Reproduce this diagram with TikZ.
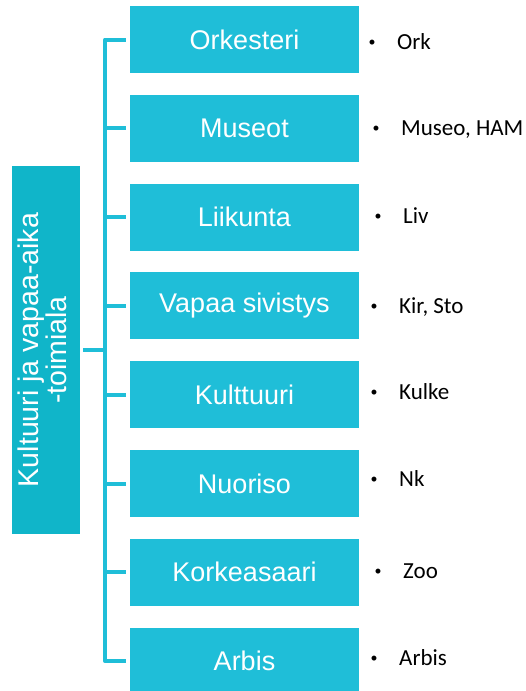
\documentclass[tikz,border=0pt]{standalone}
\usepackage{fontspec}
\setmainfont{Liberation Sans}
\newfontfamily\carlito{Carlito}
\definecolor{unitcyan}{HTML}{1FBED8}
\definecolor{leadcyan}{HTML}{10B5C9}
\newcommand\dotmark{\makebox[0pt][c]{\raisebox{2.5pt}{\fontsize{14}{14}\selectfont\textbullet}}}
\begin{document}
\begin{tikzpicture}[x=1pt, y=-1pt, line join = round,
	unit/.style={fill=unitcyan, minimum width=229pt, minimum height=67pt, inner sep=0pt, text=white, font=\fontsize{27}{30}\selectfont},
	stem/.style={draw=unitcyan, line width=4pt},
	info/.style={anchor=base west, inner sep=0pt, font=\carlito\fontsize{23}{26}\selectfont}]
	\useasboundingbox (0,0) rectangle (525,691);
	\node[fill=leadcyan, rotate=90, minimum width=368pt, minimum height=68pt, inner sep=0pt, text=white, align=center, font=\fontsize{28.5}{28}\selectfont] (lead) at (46,350) {Kultuuri ja vapaa-aika\\-toimiala\rule[-8pt]{0pt}{8pt}};
	\coordinate (trunk) at (105,350);
	\foreach \name/\txt/\bx/\by [count=\k] in {Orkesteri/Ork/372/49, Museot/{Museo, HAM}/376/135, Liikunta/Liv/378/223, Vapaa sivistys/{Kir, Sto}/374/313, Kulttuuri/Kulke/374/399, Nuoriso/Nk/374/486, Korkeasaari/Zoo/378/578, Arbis/Arbis/374/665}{
		\pgfmathsetmacro\cy{39.5+88.8*(\k-1)}
		\node[unit] (u\k) at (244.5,\cy) {\name};
		\node[info] (i\k) at (\bx,\by) {\dotmark\hspace{25pt}\txt};
	}
	\draw[stem] ([xshift=-4pt]u1.west) -- (u1.west -| trunk) -- (u8.west -| trunk) -- ([xshift=-4pt]u8.west);
	\foreach \k in {2,...,7}
		\draw[stem] (u\k.west -| trunk) -- ([xshift=-4pt]u\k.west);
	\draw[stem] ([xshift=3pt]lead.south) -- (trunk);
\end{tikzpicture}
\end{document}
